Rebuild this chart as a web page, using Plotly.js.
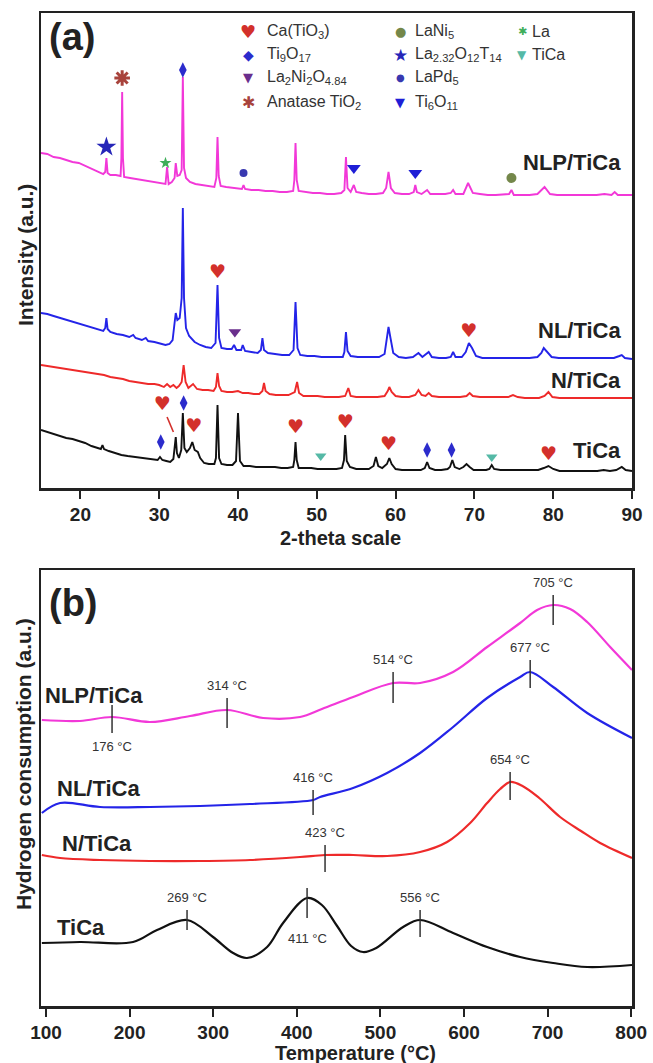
<!DOCTYPE html>
<html><head><meta charset="utf-8">
<script src="https://cdn.plot.ly/plotly-3.0.1.min.js"></script>
<style>html,body{margin:0;padding:0;background:#fff;}#chart{width:653px;height:1063px;}</style>
</head><body><div id="chart"></div>
<script>
// ---------- Panel (a): XRD patterns, [2-theta, intensity (a.u.)] ----------
const xrdNLP = [[15.0,335],[15.8,334],[16.6,331],[17.4,330],[18.2,328],[19.0,326],[19.8,325],[20.6,322],[21.4,319],[22.2,316],[22.9,314],[23.15,316],[23.3,330],[23.45,315],[23.8,313],[24.5,313],[25.1,312],[25.2,330],[25.3,396],[25.4,330],[25.55,311],[26.3,310],[27.1,309],[27.9,308],[28.7,307],[29.5,306],[30.3,305],[30.8,304],[31.0,321],[31.2,304],[31.6,306],[31.95,310],[32.1,325],[32.3,312],[32.6,313],[32.85,318],[33.0,411],[33.15,320],[33.4,310],[33.9,306],[34.6,304],[35.4,303],[36.2,302],[37.0,301],[37.25,310],[37.4,351],[37.55,312],[37.8,302],[38.5,301],[39.3,300],[40.1,299],[40.5,299],[40.7,303],[40.9,299],[41.7,298],[42.6,298],[43.5,297],[44.4,297],[45.3,296],[46.2,296],[47.0,297],[47.15,308],[47.3,345],[47.45,308],[47.7,297],[48.6,296],[49.5,295],[50.4,295],[51.3,294],[52.2,294],[53.1,295],[53.5,298],[53.7,331],[53.9,300],[54.3,296],[54.7,303],[55.0,296],[55.7,295],[56.6,294],[57.5,294],[58.4,295],[58.8,300],[59.1,316],[59.4,300],[59.9,295],[60.8,294],[61.7,294],[62.3,296],[62.5,303],[62.7,296],[63.3,294],[64.0,298],[64.4,294],[65.3,294],[66.3,294],[67.0,295],[67.3,298],[67.6,294],[68.6,294],[69.2,305],[69.8,295],[70.7,294],[71.7,293],[72.7,293],[73.7,294],[74.4,294],[74.7,298],[75.0,293],[76.0,293],[77.0,293],[78.0,294],[78.9,301],[79.6,294],[80.5,293],[81.5,293],[82.5,293],[83.5,293],[84.5,293],[85.5,293],[86.5,294],[87.4,293],[87.8,296],[88.2,293],[89.0,293],[90.0,293]];
const xrdNL = [[15.0,175],[15.8,174],[16.6,172],[17.4,170],[18.2,168],[19.0,166],[19.8,164],[20.6,162],[21.4,160],[22.2,158],[22.9,157],[23.15,160],[23.3,170],[23.45,159],[23.8,156],[24.6,154],[25.4,153],[26.2,151],[26.7,153],[27.0,150],[27.8,148],[28.3,150],[28.6,147],[29.4,146],[30.2,144],[30.8,143],[31.3,144],[31.7,148],[31.95,165],[32.1,175],[32.3,168],[32.6,170],[32.85,190],[33.0,280],[33.15,190],[33.4,160],[33.8,152],[34.5,146],[35.2,143],[35.9,141],[36.6,140],[37.15,145],[37.4,203],[37.6,150],[37.9,140],[38.6,139],[39.2,139],[39.5,143],[39.8,138],[40.4,138],[40.6,143],[40.9,137],[41.7,136],[42.5,135],[42.9,138],[43.1,150],[43.3,138],[43.8,135],[44.7,134],[45.6,133],[46.5,133],[47.05,138],[47.3,186],[47.55,140],[47.9,133],[48.8,132],[49.7,132],[50.6,131],[51.5,131],[52.4,131],[53.3,131],[53.5,136],[53.7,156],[53.9,137],[54.3,132],[55.2,131],[56.1,131],[57.0,131],[57.9,131],[58.6,134],[58.9,150],[59.1,161],[59.35,150],[59.7,135],[60.4,131],[61.3,130],[62.2,131],[62.9,135],[63.4,131],[64.2,136],[64.6,131],[65.5,130],[66.4,130],[67.0,131],[67.3,136],[67.6,131],[68.4,131],[68.9,136],[69.3,145],[69.7,140],[70.2,132],[71.0,130],[72.0,130],[73.0,130],[74.0,130],[75.0,130],[76.0,130],[77.0,130],[78.0,131],[78.5,135],[78.8,140],[79.2,136],[79.8,131],[80.7,130],[81.7,130],[82.7,130],[83.7,130],[84.7,130],[85.7,130],[86.7,130],[87.7,130],[88.4,132],[88.7,133],[89.1,130],[90.0,129]];
const xrdN = [[15.0,123],[15.8,122],[16.6,121],[17.4,120],[18.2,119],[19.0,118],[19.8,117],[20.6,116],[21.4,115],[22.2,114],[23.0,113],[23.8,111],[24.6,110],[25.4,109],[26.2,107],[27.0,106],[27.8,105],[28.6,104],[29.4,104],[30.0,103],[30.6,101],[31.0,104],[31.4,101],[31.8,103],[32.2,100],[32.5,102],[32.85,106],[33.1,123],[33.35,106],[33.7,100],[34.3,104],[34.8,99],[35.5,98],[36.2,98],[36.9,97],[37.2,101],[37.4,115],[37.6,102],[37.9,97],[38.6,96],[39.3,96],[40.0,97],[40.6,95],[41.3,95],[42.0,94],[42.7,94],[43.1,97],[43.3,105],[43.5,97],[44.0,94],[44.8,93],[45.6,93],[46.4,93],[47.2,96],[47.5,106],[47.75,95],[48.3,92],[49.2,92],[50.1,92],[51.0,91],[51.9,91],[52.8,91],[53.6,92],[54.0,100],[54.3,92],[55.0,91],[55.9,91],[56.8,91],[57.7,91],[58.6,92],[59.0,97],[59.2,101],[59.5,96],[60.0,92],[60.8,91],[61.7,91],[62.5,93],[62.9,98],[63.3,93],[63.8,92],[64.2,95],[64.6,92],[65.5,91],[66.4,91],[67.3,91],[68.2,91],[69.0,92],[69.4,95],[69.8,92],[70.7,91],[71.6,91],[72.5,91],[73.4,91],[74.3,91],[74.9,93],[75.5,91],[76.4,90],[77.3,90],[78.2,90],[78.9,92],[79.4,96],[79.9,91],[80.8,90],[81.7,90],[82.6,90],[83.5,90],[84.4,90],[85.3,90],[86.2,90],[87.1,90],[88.0,90],[89.0,90],[90.0,90]];
const xrdTiCa = [[15.0,58],[15.8,56],[16.6,54],[17.4,52],[18.2,50],[19.0,49],[19.8,47],[20.6,45],[21.4,42],[22.2,40],[22.6,39],[22.8,43],[23.0,39],[23.6,37],[24.4,35],[25.2,33],[26.0,32],[26.8,31],[27.6,30],[28.4,29],[29.2,28],[29.8,28],[30.1,31],[30.4,28],[30.9,27],[31.4,26],[31.8,29],[31.95,40],[32.1,51],[32.25,35],[32.5,30],[32.8,38],[33.0,75],[33.2,40],[33.5,36],[33.9,40],[34.2,46],[34.5,38],[34.9,36],[35.2,30],[35.7,25],[36.3,24],[37.0,24],[37.2,30],[37.4,83],[37.6,30],[37.9,24],[38.6,23],[39.3,23],[39.75,27],[40.0,75],[40.25,27],[40.7,22],[41.5,22],[42.3,21],[43.1,21],[43.9,21],[44.7,21],[45.5,20],[46.3,20],[47.0,21],[47.15,28],[47.3,46],[47.45,28],[47.7,20],[48.5,20],[49.3,20],[50.1,19],[50.9,19],[51.7,19],[52.5,19],[53.2,20],[53.45,28],[53.6,53],[53.8,27],[54.2,21],[55.0,19],[55.8,19],[56.6,19],[57.2,22],[57.5,31],[57.8,22],[58.3,20],[58.9,24],[59.2,30],[59.5,24],[60.0,19],[60.8,18],[61.6,18],[62.4,18],[63.2,18],[63.7,20],[64.0,26],[64.3,20],[65.0,18],[65.8,18],[66.6,19],[66.9,21],[67.2,28],[67.5,21],[68.1,19],[68.6,21],[69.0,24],[69.4,21],[69.9,18],[70.7,18],[71.5,18],[71.9,19],[72.2,23],[72.5,19],[73.3,18],[74.1,18],[74.9,18],[75.7,18],[76.5,18],[77.3,18],[78.1,18],[78.8,20],[79.4,22],[80.0,19],[80.8,17],[81.6,17],[82.4,17],[83.2,17],[84.0,17],[84.8,17],[85.6,17],[86.4,18],[87.2,17],[88.0,18],[88.7,21],[89.2,18],[90.0,17]];

// phase markers [2-theta, intensity]
const phCaTiO3   = [[37.4,215],[69.3,156],[30.4,83],[34.4,61],[47.3,60],[53.6,65],[59.1,43],[79.4,33]];
const phTi9O17   = [[33.0,418],[33.1,85],[30.2,46],[64.0,38],[67.1,38]];
const phLa2Ni2O  = [[39.6,156]];
const phAnatase  = [[25.3,410]];
const phLaNi5    = [[74.7,310]];
const phLaOT     = [[23.3,341]];
const phLaPd5    = [[40.7,315]];
const phTi6O11   = [[54.7,320],[62.5,315]];
const phLa       = [[30.8,325]];
const phTiCa     = [[50.5,32],[72.2,31]];
const arrowTiCa  = [[31.0,71],[31.8,56]];

const xrdTicks = [20,30,40,50,60,70,80,90];
const xrdNames = ['NLP/TiCa','NL/TiCa','N/TiCa','TiCa'];

// ---------- Panel (b): H2-TPR, [temperature °C, H2 consumption a.u.] ----------
const tprNLP = [[95,286],[140.7,285],[179.0,289],[224.4,284],[272.3,290],[316.6,296],[359.7,288],[403.9,289],[430,297],[467.4,309],[515.2,323],[547.5,323],[587.0,334],[627.7,359],[667.2,383],[687.5,396],[706.7,401],[727.0,397],[747.4,384],[774.9,359],[801,336]];
const tprNL  = [[95,193],[116.8,203],[164.6,199],[224.4,199],[284.3,200],[344.1,202],[419.5,206],[427.9,209],[467.4,218],[508.0,233],[547.5,253],[587.0,279],[627.7,308],[667.2,329],[679.2,334],[706.7,319],[747.4,293],[801,268]];
const tprN   = [[95,151],[116.8,148],[164.6,146],[224.4,145],[284.3,145],[344.1,146],[403.9,149],[433.8,151],[467.4,151],[508.0,150],[547.5,154],[579.8,164],[607.4,183],[627.7,203],[643.3,217],[655.2,224],[670.0,220],[690.0,208],[715.0,189],[740.0,175],[762.9,163],[801,148]];
const tprTiCa= [[95,63],[140.7,64],[204.1,64],[232.8,76],[268.7,86],[299.8,69],[323.8,53],[340.5,48],[364.5,59],[383.6,83],[412.3,108],[430,101],[448.2,80],[465.0,60],[479.3,54],[495.0,58],[527.2,79],[547.5,86],[587.0,73],[627.7,59],[667.2,49],[706.7,43],[747.4,39],[801,41]];

const peakT      = [179.0, 316.6, 515.2, 706.7, 679.2, 419.5, 655.2, 433.8, 268.7, 412.3, 547.5];
const peakTop    = [301, 308, 334, 411, 346, 216, 234, 161, 96, 118, 96];
const peakBottom = [273, 278, 303, 381, 318, 191, 206, 134, 76, 88, 69];
const peakText   = ['176 °C','314 °C','514 °C','705 °C','677 °C','416 °C','654 °C','423 °C','269 °C','411 °C','556 °C'];
const tprTicks = [100,200,300,400,500,600,700,800];
const tprNames = ['NLP/TiCa','NL/TiCa','N/TiCa','TiCa'];

const legendGlyphs = ['♥','◆','▼','✱','●','★','●','▼','✱','▼'];
const legendLabels = ['Ca(TiO<sub>3</sub>)','Ti<sub>9</sub>O<sub>17</sub>','La<sub>2</sub>Ni<sub>2</sub>O<sub>4.84</sub>','Anatase TiO<sub>2</sub>',
                      'LaNi<sub>5</sub>','La<sub>2.32</sub>O<sub>12</sub>T<sub>14</sub>','LaPd<sub>5</sub>','Ti<sub>6</sub>O<sub>11</sub>',
                      'La','TiCa'];

// ---------- styles ----------
const FONT = 'Liberation Sans, Arial, sans-serif';
const GLYPH = 'DejaVu Sans, sans-serif';
const C = {nlp:'#f238d8', nl:'#2424e8', n:'#ee2a2a', ti:'#111111'};
const PH = {ca:'#d3302b', ti9:'#2b2bcc', la2:'#6a2e8c', ana:'#a8433c', lani:'#74874a', laot:'#2626b8', lapd:'#3838b0', ti6:'#1e1ed6', la:'#3fae5a', tica:'#55b9a6'};
const X = p => p.map(d => d[0]);
const Y = p => p.map(d => d[1]);

const traces = [];
[[xrdNLP,C.nlp],[xrdNL,C.nl],[xrdN,C.n],[xrdTiCa,C.ti]].forEach(([d,c]) => {
  traces.push({x:X(d), y:Y(d), xaxis:'x', yaxis:'y', mode:'lines', line:{color:c, width:1.9}, hoverinfo:'skip'});
});
[[tprNLP,C.nlp],[tprNL,C.nl],[tprN,C.n],[tprTiCa,C.ti]].forEach(([d,c]) => {
  traces.push({x:X(d), y:Y(d), xaxis:'x2', yaxis:'y2', mode:'lines', line:{color:c, width:2.2, shape:'spline', smoothing:1}, hoverinfo:'skip'});
});
// arrow in TiCa pattern
traces.push({x:X(arrowTiCa), y:Y(arrowTiCa), xaxis:'x', yaxis:'y', mode:'lines', line:{color:PH.ca, width:1.6}, hoverinfo:'skip'});
// hearts as text glyphs
traces.push({x:X(phCaTiO3), y:Y(phCaTiO3), xaxis:'x', yaxis:'y', mode:'text', text:phCaTiO3.map(()=>'♥'),
  textposition:'middle center', textfont:{family:GLYPH, size:19, color:PH.ca}, hoverinfo:'skip'});
function mk(d, symbol, size, color){
  traces.push({x:X(d), y:Y(d), xaxis:'x', yaxis:'y', mode:'markers',
    marker:{symbol, size, color, line:{width:0}}, hoverinfo:'skip'});
}
mk(phTi9O17,'diamond-tall',11,PH.ti9);
mk(phLa2Ni2O,'triangle-down',11,PH.la2);
traces.push({x:X(phAnatase), y:Y(phAnatase), xaxis:'x', yaxis:'y', mode:'markers', hoverinfo:'skip',
  marker:{symbol:'asterisk-open', size:13, color:PH.ana, line:{width:3, color:PH.ana}}});
mk(phLaNi5,'circle',10,PH.lani);
mk(phLaOT,'star',15,PH.laot);
mk(phLaPd5,'circle',8,PH.lapd);
mk(phTi6O11,'triangle-down',12,PH.ti6);
mk(phLa,'star',9,PH.la);
mk(phTiCa,'triangle-down',10,PH.tica);
// peak markers in TPR
const tx=[], ty=[];
peakT.forEach((t,i)=>{ tx.push(t,t,null); ty.push(peakBottom[i],peakTop[i],null); });
traces.push({x:tx, y:ty, xaxis:'x2', yaxis:'y2', mode:'lines', line:{color:'#333', width:1.5}, hoverinfo:'skip'});

// ---------- layout ----------
const W=653, H=1063, L=41, R=21, T=13, B=57;
const pw=W-L-R, ph=H-T-B;
const px2x = px => (px-L)/pw;
const py2y = py => (H-B-py)/ph;

const axisX = (range, ticks, anchor) => ({
  anchor, range, tickvals:ticks, ticktext:ticks.map(String), ticks:'outside', ticklen:8, tickwidth:2, tickcolor:'#222',
  showline:true, mirror:true, linewidth:2.5, linecolor:'#222', showgrid:false, zeroline:false,
  tickfont:{family:FONT, size:19, color:'#222', weight:'bold'}
});
const axisY = (range, domain, anchor) => ({
  anchor, range, domain, showticklabels:false, ticks:'', showline:true, mirror:true, linewidth:2.5, linecolor:'#222',
  showgrid:false, zeroline:false
});

const ann = [];
const txt = (o) => ann.push(Object.assign({showarrow:false, font:{family:FONT, size:20, color:'#222', weight:'bold'}}, o));
// panel letters
txt({text:'(a)', xref:'paper', yref:'paper', x:px2x(47), y:py2y(37), xanchor:'left', yanchor:'middle', font:{family:FONT, size:38, color:'#222', weight:'bold'}});
txt({text:'(b)', xref:'paper', yref:'paper', x:px2x(47), y:py2y(603), xanchor:'left', yanchor:'middle', font:{family:FONT, size:38, color:'#222', weight:'bold'}});
// axis titles
txt({text:'Intensity (a.u.)', xref:'paper', yref:'paper', x:px2x(25), y:py2y(255), textangle:-90, xanchor:'center', yanchor:'middle', font:{family:FONT, size:21, color:'#222', weight:'bold'}});
txt({text:'2-theta scale', xref:'paper', yref:'paper', x:px2x(340), y:py2y(538), xanchor:'center', yanchor:'middle'});
txt({text:'Hydrogen consumption (a.u.)', xref:'paper', yref:'paper', x:px2x(23), y:py2y(764), textangle:-90, xanchor:'center', yanchor:'middle', font:{family:FONT, size:21, color:'#222', weight:'bold'}});
txt({text:'Temperature (°C)', xref:'paper', yref:'paper', x:px2x(355), y:py2y(1053), xanchor:'center', yanchor:'middle'});
// series labels panel a (right aligned)
const xrdLabelY = [326,158,108,38];
xrdNames.forEach((n,i)=>txt({text:n, xref:'x', yref:'y', x:88.8, y:xrdLabelY[i], xanchor:'right', yanchor:'middle', font:{family:FONT, size:22, color:'#222', weight:'bold'}}));
// series labels panel b (left aligned)
const tprLabelX = [96.5,110.8,116.8,110.8], tprLabelY = [311,218,163,79];
tprNames.forEach((n,i)=>txt({text:n, xref:'x2', yref:'y2', x:tprLabelX[i], y:tprLabelY[i], xanchor:'left', yanchor:'middle', font:{family:FONT, size:22, color:'#222', weight:'bold'}}));
// peak labels
const below = [true,false,false,false,false,false,false,false,false,true,false];
const belowShift = [-4,0,0,0,0,0,0,0,0,-11,0];
peakText.forEach((s,i)=>{
  txt({text:s, xref:'x2', yref:'y2', x:peakT[i], y: below[i]?peakBottom[i]:peakTop[i],
       xanchor:'center', yanchor: below[i]?'top':'bottom', yshift: below[i]?belowShift[i]:3,
       font:{family:FONT, size:13, color:'#333'}});
});
// custom legend
const legCols = [[248,265],[400,413],[522,530]];
const legRows = [32,55,78,102];
const legColors = [PH.ca, PH.ti9, PH.la2, PH.ana, PH.lani, PH.laot, PH.lapd, PH.ti6, PH.la, PH.tica];
const legSizes  = [18,14,13,16,13,17,10,13,11,12];
legendLabels.forEach((lab,i)=>{
  const col = i<4?0:(i<8?1:2), row = i<4?i:(i<8?i-4:i-8);
  txt({text:legendGlyphs[i], xref:'paper', yref:'paper', x:px2x(legCols[col][0]), y:py2y(legRows[row]), xanchor:'center', yanchor:'middle',
       font:{family:GLYPH, size:legSizes[i], color:legColors[i]}});
  txt({text:lab, xref:'paper', yref:'paper', x:px2x(legCols[col][1]), y:py2y(legRows[row]), xanchor:'left', yanchor:'middle',
       font:{family:FONT, size:16, color:'#333'}});
});

const layout = {
  width:W, height:H, margin:{l:L, r:R, t:T, b:B}, paper_bgcolor:'#fff', plot_bgcolor:'#fff', showlegend:false,
  xaxis: axisX([15,90], xrdTicks, 'y'),
  yaxis: axisY([0,475], [py2y(488), 1], 'x'),
  xaxis2: axisX([94,801], tprTicks, 'y2'),
  yaxis2: axisY([0,436], [0, py2y(570)], 'x2'),
  annotations: ann
};
Plotly.newPlot('chart', traces, layout, {staticPlot:true, displayModeBar:false});
</script></body></html>
